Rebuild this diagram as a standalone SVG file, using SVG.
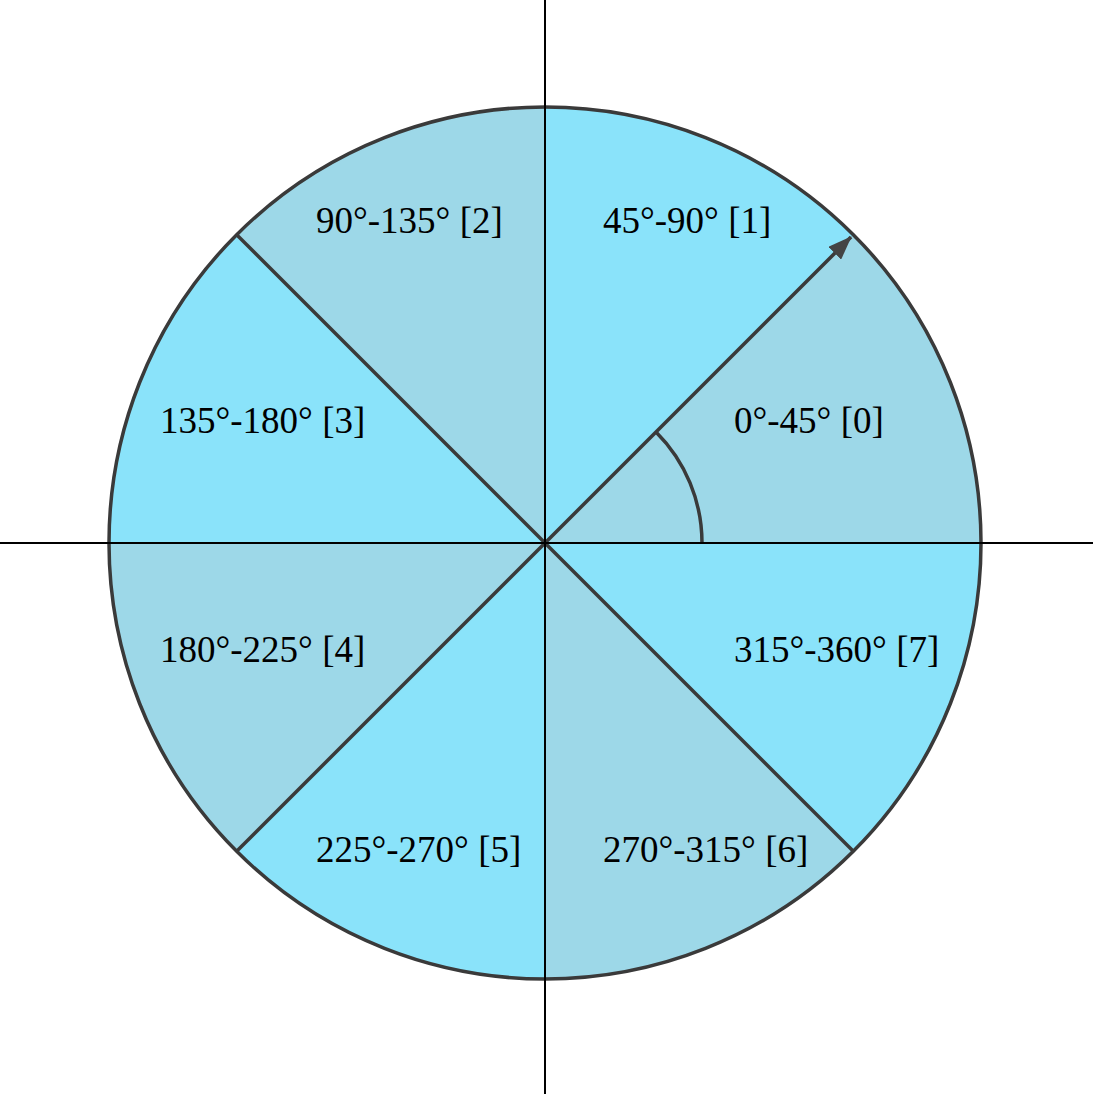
<svg xmlns="http://www.w3.org/2000/svg" width="1093" height="1094" viewBox="0 0 1093 1094">
<style>
.dark{fill:#9dd8e8}
.light{fill:#8ae3fa}
.edge{stroke:#3a3a3a;stroke-width:3.5;fill:none}
.axis{stroke:#000;stroke-width:2}
.lbl{font-family:"Liberation Serif","Times New Roman",serif;font-size:37px;fill:#000}
</style>
<defs>
<marker id="ah2" viewBox="0 0 24 18" refX="23" refY="9" markerWidth="24" markerHeight="18" orient="auto" markerUnits="userSpaceOnUse">
<path d="M0,0 L24,9 L0,18 Z" fill="#444"/>
</marker>
</defs>
<rect width="1093" height="1094" fill="#fff"/>
<g id="sectors">
<g id="s0"><path class="dark" d="M545,543 L981,543 A436,436 0 0 0 853.3,234.7 Z"/><text class="lbl" x="734" y="433">0°-45° [0]</text></g>
<g id="s1"><path class="light" d="M545,543 L853.3,234.7 A436,436 0 0 0 545,107 Z"/><text class="lbl" x="603" y="233">45°-90° [1]</text></g>
<g id="s2"><path class="dark" d="M545,543 L545,107 A436,436 0 0 0 236.7,234.7 Z"/><text class="lbl" x="316" y="233">90°-135° [2]</text></g>
<g id="s3"><path class="light" d="M545,543 L236.7,234.7 A436,436 0 0 0 109,543 Z"/><text class="lbl" x="160" y="433">135°-180° [3]</text></g>
<g id="s4"><path class="dark" d="M545,543 L109,543 A436,436 0 0 0 236.7,851.3 Z"/><text class="lbl" x="160" y="662">180°-225° [4]</text></g>
<g id="s5"><path class="light" d="M545,543 L236.7,851.3 A436,436 0 0 0 545,979 Z"/><text class="lbl" x="316" y="862">225°-270° [5]</text></g>
<g id="s6"><path class="dark" d="M545,543 L545,979 A436,436 0 0 0 853.3,851.3 Z"/><text class="lbl" x="603" y="862">270°-315° [6]</text></g>
<g id="s7"><path class="light" d="M545,543 L853.3,851.3 A436,436 0 0 0 981,543 Z"/><text class="lbl" x="734" y="662">315°-360° [7]</text></g>
</g>
<g id="connectors">
<line class="edge" x1="236.7" y1="234.7" x2="853.3" y2="851.3"/>
<line class="edge" x1="236.7" y1="851.3" x2="545" y2="543"/>
<line class="edge" x1="545" y1="543" x2="851" y2="237" marker-end="url(#ah2)"/>
<path class="edge" d="M702,543 A157,157 0 0 0 656,432"/>
<circle class="edge" cx="545" cy="543" r="436" stroke-width="4.5"/>
<line class="axis" x1="0" y1="543" x2="1093" y2="543"/>
<line class="axis" x1="545" y1="0" x2="545" y2="1094"/>
</g>
</svg>
